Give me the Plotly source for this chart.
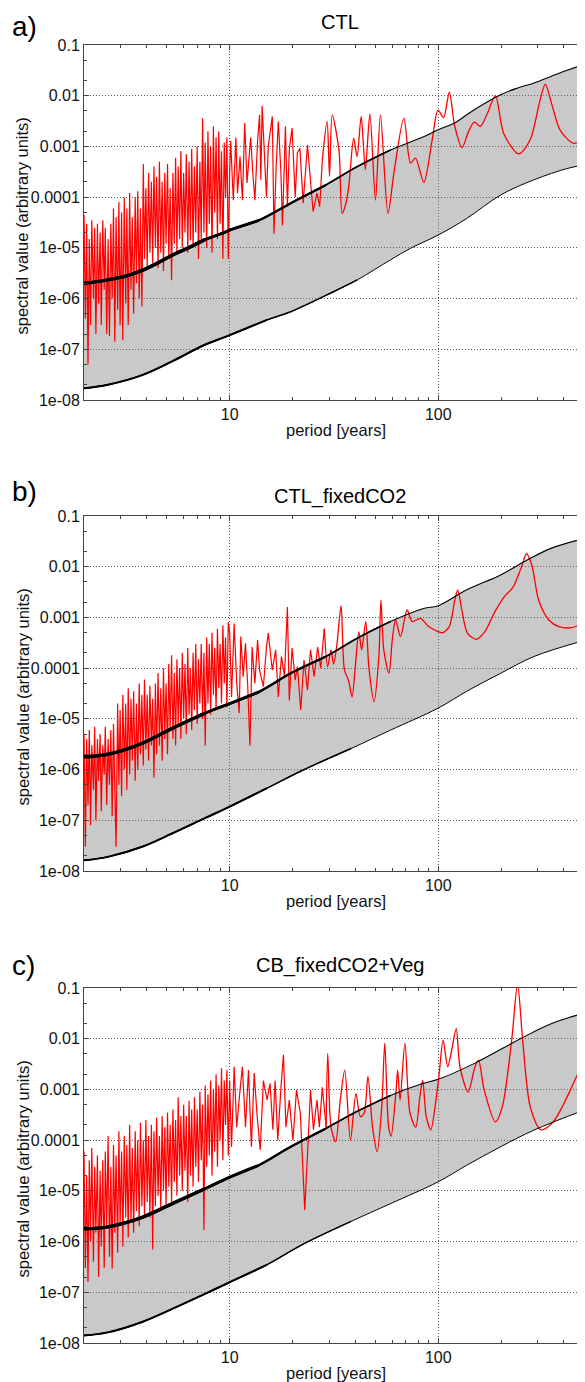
import math
import plotly.graph_objects as go

# ---------------- shared short-period grid (years) ----------------
period_dense = [2.00, 2.03, 2.06, 2.09, 2.12, 2.15, 2.18, 2.22, 2.25, 2.28, 2.32, 2.35, 2.39, 2.42, 2.46,
                2.50, 2.53, 2.57, 2.61, 2.65, 2.69, 2.73, 2.77, 2.81, 2.85, 2.90, 2.94, 2.98, 3.03, 3.07,
                3.12, 3.17, 3.21, 3.26, 3.31, 3.36, 3.41, 3.46, 3.52, 3.57, 3.62, 3.68, 3.73, 3.79, 3.85,
                3.90, 3.96, 4.02, 4.08, 4.14, 4.21, 4.27, 4.33, 4.40, 4.46, 4.53, 4.60, 4.67, 4.74, 4.81,
                4.88, 4.95, 5.03, 5.10, 5.18, 5.26, 5.34, 5.42, 5.50, 5.58, 5.66, 5.75, 5.83, 5.92, 6.01,
                6.10, 6.19, 6.29, 6.38, 6.48, 6.57, 6.67, 6.77, 6.87, 6.98, 7.08, 7.19, 7.30, 7.41, 7.52,
                7.63, 7.75, 7.86, 7.98, 8.10, 8.22, 8.35, 8.47, 8.60, 8.73, 8.86, 8.99, 9.13, 9.27, 9.41,
                9.55, 9.69, 9.84, 9.99]

# ---------------- panel a: CTL ----------------
red_a_dense = [4.5e-5, 4e-7, 3e-5, 5e-8, 1.5e-5, 3e-7, 3.5e-5, 1e-6, 2.5e-5, 2e-7, 3e-5, 8e-7, 2e-5, 3e-7, 3.5e-5,
               1.5e-6, 2.5e-5, 2e-7, 1.5e-5, 1.8e-7, 3e-5, 1e-6, 6e-5, 1.4e-7, 4e-5, 6e-7, 8e-5, 3e-7, 5e-5, 1.5e-7,
               1e-4, 8e-7, 6e-5, 3e-7, 1.2e-4, 1.5e-6, 4e-5, 5e-7, 1e-4, 2e-6, 1.3e-4, 1e-6, 6e-5, 7e-7, 4.5e-4,
               6e-6, 1.5e-4, 4e-6, 3e-4, 8e-6, 2e-4, 5e-6, 4e-4, 1e-5, 2.5e-4, 4e-6, 5e-4, 8e-6, 2e-4, 3.5e-6,
               3e-4, 1.2e-5, 4.5e-4, 6e-6, 1.5e-4, 2.3e-6, 3e-4, 1.2e-5, 6e-4, 8e-6, 4e-4, 1.5e-5, 8e-4, 1e-5, 3e-4,
               2e-5, 7e-4, 8e-6, 5e-4, 1.4e-5, 9e-4, 1e-5, 4e-4, 2e-5, 1e-3, 6e-6, 5e-4, 1.5e-5, 3.6e-3, 2e-5,
               1.2e-3, 1e-5, 2e-3, 3e-5, 1e-3, 8e-6, 2.5e-3, 5e-5, 1.5e-3, 1.5e-5, 2e-3, 3e-5, 8e-4, 6e-6, 1.2e-3,
               1e-4, 1.5e-3, 6e-6, 3e-4]
red_a_tail_period = [10.1, 10.4, 10.7, 10.9, 11.2, 11.5, 11.8, 12.1, 12.6, 12.9, 13.2, 13.6, 13.9, 14.1, 14.3,
                     15.0, 15.3, 16.0, 16.3, 16.7, 17.1, 17.6, 17.9, 18.5, 18.9, 19.3, 19.9, 20.6, 21.1, 21.7,
                     22.5, 23.6, 25.1, 26.2, 27.0, 27.8, 29.3, 30.1, 31.0, 33.4, 34.6, 35.9, 37.2, 39.3, 40.8,
                     42.7, 44.7, 47.0, 50.0, 52.8, 57.4, 61.3, 68.4, 73.6, 77.8, 85.3, 93.5, 99.7, 106, 113,
                     120, 130, 140, 149, 159, 171, 188, 206, 243, 276, 308, 326, 351, 384, 445, 497]
red_a_tail = [1.3e-3, 8.7e-5, 1.5e-3, 1.2e-4, 6.3e-4, 8.7e-5, 2.9e-3, 1.9e-4, 1.5e-3, 3e-4, 8.7e-5, 1.3e-3, 4.2e-3, 2.2e-4, 6.3e-3,
              1e-4, 1e-3, 3.9e-3, 1.9e-5, 4e-4, 3.1e-3, 3e-4, 2.8e-5, 2.5e-3, 6.5e-5, 8.5e-4, 2.3e-3, 1e-4, 7.4e-4, 9.2e-4,
              7.6e-5, 1.07e-3, 5.2e-5, 1.2e-4, 6.5e-5, 5.4e-4, 3.1e-3, 2.6e-4, 4.2e-3, 8.5e-4, 4.8e-5, 7e-5, 1.6e-4, 1.45e-3, 6.3e-4,
              3.9e-3, 3.5e-4, 4.4e-3, 8.7e-5, 4.2e-3, 4.8e-5, 3e-4, 3.6e-3, 4.7e-4, 5.9e-4, 1.95e-4, 1.35e-3, 5.2e-3, 3.7e-3, 1.17e-2,
              2.5e-3, 9.5e-4, 2e-3, 3e-3, 2.5e-3, 4.2e-3, 1e-2, 1.8e-3, 7.1e-4, 1.35e-3, 8.3e-3, 1.7e-2, 6.6e-3, 2.1e-3, 1.15e-3, 1.4e-3]
upper_a_period = [2.0, 2.6, 3.2, 3.8, 4.5, 5.3, 6.4, 7.6, 9.4, 10, 13.8, 19.6, 28.9, 40.9, 59, 85, 100, 120, 137,
                  152, 199, 239, 288, 347, 418, 500]
upper_a = [2.0e-6, 2.34e-6, 2.8e-6, 3.6e-6, 5.0e-6, 7.2e-6, 1.02e-5, 1.45e-5, 2.0e-5, 2.24e-5, 3.5e-5, 7.6e-5,
           1.74e-4, 4.0e-4, 8.5e-4, 1.55e-3, 2.14e-3, 2.9e-3, 4.2e-3, 5.6e-3, 1.05e-2, 1.41e-2, 1.78e-2, 2.4e-2,
           3.2e-2, 4.1e-2]
lower_a_period = [2.0, 2.6, 3.8, 5.3, 7.6, 10, 15.1, 19.6, 31.6, 40.9, 59, 73.6, 99.7, 137, 199, 288, 418, 500]
lower_a = [1.7e-8, 2.0e-8, 3.1e-8, 5.8e-8, 1.23e-7, 1.9e-7, 3.8e-7, 5.5e-7, 1.38e-6, 2.34e-6, 5.8e-6, 9.8e-6,
           1.78e-5, 3.8e-5, 1.1e-4, 2.2e-4, 3.7e-4, 4.3e-4]

# ---------------- panel b: CTL_fixedCO2 ----------------
red_b_dense = [5e-6, 3e-8, 4e-6, 2e-7, 6e-6, 8e-8, 3e-6, 4e-7, 7e-6, 1e-7, 4e-6, 6e-7, 5e-6, 1.5e-7, 3e-6,
               8e-7, 7e-6, 2e-7, 4e-6, 5e-7, 6e-6, 1.2e-7, 8e-6, 6e-7, 3e-8, 2e-5, 5e-7, 1.5e-5, 3e-7, 3e-5,
               1e-6, 2e-5, 4e-7, 4e-5, 8e-7, 2.5e-5, 1.5e-6, 3.5e-5, 6e-7, 2e-5, 1e-6, 5e-5, 2e-6, 3e-5, 1.2e-6,
               6e-5, 2.5e-6, 3e-5, 1.5e-6, 4.5e-5, 3e-6, 2.5e-5, 7e-7, 5e-5, 2e-6, 8e-5, 3e-6, 4e-5, 1.5e-6, 1e-4,
               4e-6, 5e-5, 2e-6, 1.2e-4, 6e-6, 1.8e-4, 4e-6, 8e-5, 3e-6, 1.5e-4, 8e-6, 1e-4, 4e-6, 2e-4, 1e-5,
               1.2e-4, 5e-6, 2.5e-4, 1.2e-5, 1e-4, 6e-6, 2e-4, 1.5e-5, 3e-4, 8e-6, 1.5e-4, 2e-5, 3e-4, 1e-5, 2e-4,
               3e-6, 4e-4, 2e-5, 3e-4, 1.2e-5, 5e-4, 3e-5, 2.5e-4, 1.5e-5, 6e-4, 4e-5, 3e-4, 2e-5, 7e-4, 5e-5,
               4e-4, 1.7e-5, 8e-4, 5e-4]
red_b_tail_period = [10.2, 10.5, 10.8, 11.1, 11.3, 11.6, 11.9, 12.2, 12.5, 12.8, 13.2, 13.6, 13.9, 14.5, 15.0,
                     15.3, 16.0, 16.6, 17.1, 17.7, 18.3, 18.9, 19.3, 19.9, 20.6, 21.1, 21.9, 22.7, 23.6, 24.4,
                     25.4, 26.4, 27.3, 28.4, 29.5, 30.6, 31.5, 32.7, 34.2, 35.5, 37.1, 38.6, 40.1, 41.6, 42.9,
                     44.9, 46.5, 49.2, 51.9, 53.1, 54.8, 58.0, 60.2, 62.4, 65.9, 70.9, 75.0, 82.1, 90.0, 100.6,
                     105, 113, 120, 124, 129, 138, 152, 167, 187, 208, 228, 251, 265, 281, 303, 339, 378, 438, 508]
red_b_tail = [2.7e-5, 7.6e-4, 5e-5, 1.3e-5, 4.2e-4, 6.8e-5, 3.1e-4, 4.3e-5, 3e-6, 2.6e-4, 5e-5, 3.6e-4, 9.1e-5, 4.3e-5, 2.6e-4,
              4.9e-4, 9.1e-5, 2.3e-4, 2.7e-5, 1.7e-4, 6.8e-5, 1.6e-3, 2.3e-5, 2.5e-4, 5.8e-5, 1.07e-4, 1.5e-5, 1.45e-4, 3.7e-5, 2.3e-4,
              6.8e-5, 2.6e-4, 1e-4, 6e-4, 1.07e-4, 2.3e-4, 1.2e-4, 3.1e-4, 1.7e-3, 9.1e-5, 5.8e-5, 2.7e-5, 1.2e-4, 5.2e-4, 2.3e-4,
              8.3e-4, 1e-4, 2.2e-5, 1.7e-4, 2.2e-3, 2.3e-4, 7.9e-5, 3.6e-4, 8.9e-4, 4.2e-4, 1.4e-3, 8.3e-4, 9.6e-4, 6.6e-4, 5.2e-4,
              5e-4, 6.6e-4, 2.2e-3, 3.5e-3, 1.6e-3, 4.9e-4, 3.7e-4, 5.2e-4, 1.3e-3, 2.6e-3, 3.9e-3, 1e-2, 1.8e-2, 1.07e-2, 2.2e-3,
              8.9e-4, 6.6e-4, 6.3e-4, 8.3e-4]
upper_b_period = [2.0, 2.6, 3.8, 5.3, 7.6, 10, 13.8, 19.6, 28.9, 40.9, 59, 85, 100, 137, 199, 267, 347, 500]
upper_b = [1.78e-6, 2.0e-6, 3.3e-6, 6.5e-6, 1.29e-5, 2.0e-5, 3.4e-5, 7.9e-5, 1.7e-4, 3.9e-4, 8.3e-4, 1.5e-3,
           1.7e-3, 3.5e-3, 6.9e-3, 1.35e-2, 2.3e-2, 3.6e-2]
lower_b_period = [2.0, 2.6, 3.8, 5.3, 7.6, 10, 15.1, 22.5, 38.2, 59, 99.7, 137, 199, 288, 500]
lower_b = [1.62e-8, 1.9e-8, 3.0e-8, 5.5e-8, 1.1e-7, 1.86e-7, 4.3e-7, 9.8e-7, 2.6e-6, 6.0e-6, 1.62e-5, 3.5e-5,
           7.9e-5, 1.7e-4, 3.5e-4]

# ---------------- panel c: CB_fixedCO2+Veg ----------------
red_c_dense = [6e-5, 3e-7, 2e-5, 1.6e-7, 4e-5, 1e-6, 7e-5, 4e-7, 3e-5, 1.5e-6, 5e-5, 2e-7, 2.5e-5, 8e-7, 4e-5,
               3e-7, 6e-5, 2e-6, 1.2e-4, 5e-7, 3e-5, 2.9e-7, 8e-5, 1.5e-6, 5e-5, 6e-7, 1.5e-4, 2e-6, 6e-5, 8e-7,
               1.2e-4, 3e-6, 8e-5, 1.2e-6, 2e-4, 2.5e-6, 7e-5, 1.5e-6, 1.5e-4, 4e-6, 1e-4, 2e-6, 2.2e-4, 5e-6, 1e-4,
               3e-6, 2.5e-4, 6e-6, 1.2e-4, 3e-6, 2e-4, 7e-7, 1.5e-4, 5e-6, 2.8e-4, 8e-6, 1.2e-4, 4e-6, 3e-4, 1e-5,
               1.8e-4, 5e-6, 3.5e-4, 1.2e-5, 2e-4, 6e-6, 4e-4, 1.5e-5, 2.5e-4, 8e-6, 7e-4, 2e-5, 3e-4, 1e-5, 5e-4,
               2.5e-5, 3e-4, 6e-6, 6e-4, 2e-5, 4e-4, 1.2e-5, 7e-4, 3e-5, 4e-4, 1.5e-5, 9e-4, 4e-5, 5e-4, 1.7e-6,
               1.2e-3, 3e-5, 8e-4, 5e-5, 1.5e-3, 2e-5, 1e-3, 6e-5, 2e-3, 3e-5, 1.2e-3, 1e-4, 2.6e-3, 4e-5, 1.5e-3,
               2e-4, 2.4e-3, 5e-5, 1.5e-3]
red_c_tail_period = [10.2, 10.5, 10.8, 11.2, 11.5, 11.9, 12.3, 12.7, 13.1, 13.5, 14.0, 14.5, 15.1, 15.6, 16.1,
                     16.5, 17.0, 17.6, 18.1, 18.6, 19.3, 20.1, 20.9, 21.8, 22.9, 23.7, 24.4, 25.2, 26.2, 26.9,
                     27.8, 29.0, 29.5, 30.6, 32.2, 33.9, 35.6, 37.9, 40.3, 42.3, 44.1, 46.0, 48.4, 50.9, 53.6,
                     55.4, 57.8, 59.4, 62.8, 63.9, 65.6, 69.2, 73.2, 78.0, 81.6, 84.2, 87.6, 92.1, 97.5, 101.1,
                     105.5, 111, 116, 122, 127, 139, 150, 156, 166, 188, 203, 225, 240, 254, 276, 311, 353, 398,
                     440, 488]
red_c_tail = [7.4e-5, 2.8e-3, 1.8e-4, 9.7e-4, 2.8e-3, 1.8e-4, 2.4e-3, 7.4e-5, 2.1e-3, 3.4e-4, 6.4e-5, 1.5e-3, 6.2e-4, 1.3e-3, 1.6e-4,
              1.5e-3, 1e-4, 1.1e-3, 4.8e-3, 1.8e-4, 6.2e-4, 1e-4, 9.8e-4, 3.4e-4, 4.2e-6, 7.4e-5, 9.8e-4, 1.6e-4, 6.2e-4, 1.8e-4,
              1.1e-3, 1.8e-4, 5.1e-3, 1.8e-4, 9.3e-5, 6.2e-4, 2.4e-3, 1e-4, 8.3e-4, 2.9e-4, 3.4e-4, 1.8e-3, 1.8e-4, 5.9e-5, 4.6e-4,
              8.2e-3, 1.8e-4, 1.2e-4, 9.8e-4, 2.4e-3, 6.2e-4, 8.2e-3, 3.4e-4, 1.8e-4, 7.2e-4, 1.5e-3, 2.9e-4, 1.6e-4, 6.2e-4, 2.1e-3,
              9.4e-3, 2.8e-3, 6e-3, 1.6e-2, 2.8e-3, 8.9e-4, 2.8e-3, 3.8e-3, 9.8e-4, 2.3e-4, 4.6e-4, 9.4e-3, 0.12, 9.4e-3, 4.6e-4,
              1.6e-4, 2.2e-4, 5e-4, 1.2e-3, 3e-3]
upper_c_period = [2.0, 2.6, 3.8, 5.3, 7.6, 10, 13.8, 19.6, 28.9, 40.9, 59, 85, 100, 150, 250, 350, 500]
upper_c = [1.78e-6, 1.95e-6, 3.0e-6, 5.6e-6, 1.1e-5, 1.86e-5, 3.2e-5, 7.4e-5, 1.7e-4, 3.7e-4, 7.6e-4, 1.32e-3,
           1.58e-3, 3.3e-3, 1.02e-2, 2.0e-2, 3.2e-2]
lower_c_period = [2.0, 2.6, 3.8, 5.3, 7.6, 10, 15.1, 22.5, 38.2, 59, 99.7, 137, 199, 288, 500]
lower_c = [1.41e-8, 1.62e-8, 2.6e-8, 4.7e-8, 9.3e-8, 1.58e-7, 3.5e-7, 8.9e-7, 2.5e-6, 5.6e-6, 1.5e-5, 3.2e-5,
           7.4e-5, 1.58e-4, 3.9e-4]

titles = ["CTL", "CTL_fixedCO2", "CB_fixedCO2+Veg"]
letters = ["a)", "b)", "c)"]
ytick_vals = [1e-8, 1e-7, 1e-6, 1e-5, 1e-4, 1e-3, 1e-2, 1e-1]
ytick_text = ["1e-08", "1e-07", "1e-06", "1e-05", "0.0001", "0.001", "0.01", "0.1"]
xtick_vals = [10, 100]
xtick_text = ["10", "100"]

panels = [
    dict(dense=red_a_dense, tp=red_a_tail_period, tv=red_a_tail,
         up=upper_a_period, uv=upper_a, lp=lower_a_period, lv=lower_a),
    dict(dense=red_b_dense, tp=red_b_tail_period, tv=red_b_tail,
         up=upper_b_period, uv=upper_b, lp=lower_b_period, lv=lower_b),
    dict(dense=red_c_dense, tp=red_c_tail_period, tv=red_c_tail,
         up=upper_c_period, uv=upper_c, lp=lower_c_period, lv=lower_c),
]

W, H = 585, 1382
OFF = 8  # page body margin: figure origin sits 8 px right/down in the window
tops = [45, 516, 988]
bottoms = [400, 871, 1343]
x_left, x_right = 84, 584


def px(x):
    return (x - OFF) / W


def py(y):
    return (H - (y - OFF)) / H


FONT = "Liberation Sans, Arial, Helvetica, sans-serif"
RED = "#ff0000"
fig = go.Figure()

minor_x = [v * m for v in (1, 10, 100) for m in range(2, 10) if 2 <= v * m <= 500]
minor_y = [m * 10.0 ** e for e in range(-8, -1) for m in (2, 5)]


def upto(xs, ys, lim):
    return [a for a in xs if a <= lim], [v for a, v in zip(xs, ys) if a <= lim]


annotations = []
for i, p in enumerate(panels):
    sfx = "" if i == 0 else str(i + 1)
    xa, ya = "x" + sfx, "y" + sfx
    common = dict(xaxis=xa, yaxis=ya, hoverinfo="skip", showlegend=False)
    spl = dict(shape="spline", smoothing=1.0)

    # grey confidence band (end points doubled so the closed spline keeps sharp corners)
    band_x = [p["up"][0]] + p["up"] + [p["up"][-1], p["lp"][-1]] + p["lp"][::-1] + [p["lp"][0]]
    band_y = [p["uv"][0]] + p["uv"] + [p["uv"][-1], p["lv"][-1]] + p["lv"][::-1] + [p["lv"][0]]
    fig.add_trace(go.Scatter(x=band_x, y=band_y,
                             mode="lines", fill="toself", fillcolor="rgba(120,120,120,0.40)",
                             line=dict(width=0, **spl), **common))

    # red spectrum: dense short-period part (linear) and smooth long-period part (spline)
    cut = 29.0
    xs = period_dense + [t for t in p["tp"] if t <= cut]
    ys = p["dense"] + [v for t, v in zip(p["tp"], p["tv"]) if t <= cut]
    fig.add_trace(go.Scatter(x=xs, y=ys, mode="lines", line=dict(color=RED, width=1.2), **common))
    last = max(t for t in p["tp"] if t <= cut)
    xs2 = [t for t in p["tp"] if t >= last]
    ys2 = [v for t, v in zip(p["tp"], p["tv"]) if t >= last]
    fig.add_trace(go.Scatter(x=xs2, y=ys2, mode="lines",
                             line=dict(color=RED, width=1.3, shape="spline", smoothing=0.8), **common))

    # black bounding curves (thicker where the estimate is noisier)
    for lim, wd in ((1000, 1.1), (60, 1.7), (30, 2.3), (15, 2.9), (8, 3.5)):
        bx, by = upto(p["up"], p["uv"], lim)
        fig.add_trace(go.Scatter(x=bx, y=by, mode="lines",
                                 line=dict(color="#000", width=wd, **spl), **common))
    for lim, wd in ((1000, 1.0), (45, 1.5), (16, 2.0)):
        bx, by = upto(p["lp"], p["lv"], lim)
        fig.add_trace(go.Scatter(x=bx, y=by, mode="lines",
                                 line=dict(color="#000", width=wd, **spl), **common))

    axis_common = dict(type="log", showline=True, linecolor="#444", linewidth=1, mirror="allticks",
                       ticks="inside", ticklen=5, tickcolor="#444", showgrid=True, automargin=False,
                       gridcolor="#555", griddash="1px,2px", gridwidth=1, zeroline=False,
                       tickfont=dict(family=FONT, size=16, color="#111"))
    fig.update_layout(**{
        "xaxis" + sfx: dict(axis_common, domain=[px(x_left), px(x_right)],
                            range=[math.log10(2), math.log10(500)], anchor=ya,
                            tickmode="array", tickvals=xtick_vals, ticktext=xtick_text,
                            minor=dict(tickmode="array", tickvals=minor_x, ticks="inside",
                                       ticklen=3, tickcolor="#444", showgrid=False)),
        "yaxis" + sfx: dict(axis_common, domain=[py(bottoms[i]), py(tops[i])], range=[-8, -1], anchor=xa,
                            tickmode="array", tickvals=ytick_vals, ticktext=ytick_text,
                            minor=dict(tickmode="array", tickvals=minor_y, ticks="inside",
                                       ticklen=3, tickcolor="#444", showgrid=False)),
    })

    title_y = [22, 496, 966][i]
    letter_y = [27, 492, 966][i]
    annotations += [
        dict(text=letters[i], x=px(10), y=py(letter_y), xref="paper", yref="paper",
             xanchor="left", yanchor="middle", showarrow=False,
             font=dict(family=FONT, size=28, color="#000")),
        dict(text=titles[i], x=px(340), y=py(title_y), xref="paper", yref="paper",
             xanchor="center", yanchor="middle", showarrow=False,
             font=dict(family=FONT, size=20, color="#000")),
        dict(text="spectral value (arbitrary units)", x=px(22),
             y=py((tops[i] + bottoms[i]) / 2 + 4), xref="paper", yref="paper",
             xanchor="center", yanchor="middle", textangle=-90, showarrow=False,
             font=dict(family=FONT, size=16.5, color="#111")),
        dict(text="period [years]", x=px(336), y=py(bottoms[i] + 30), xref="paper", yref="paper",
             xanchor="center", yanchor="middle", showarrow=False,
             font=dict(family=FONT, size=16.5, color="#111")),
    ]

fig.update_layout(width=W, height=H, margin=dict(l=0, r=0, t=0, b=0, autoexpand=False),
                  paper_bgcolor="white", plot_bgcolor="white", showlegend=False,
                  annotations=annotations)

fig.write_html("out.html")
